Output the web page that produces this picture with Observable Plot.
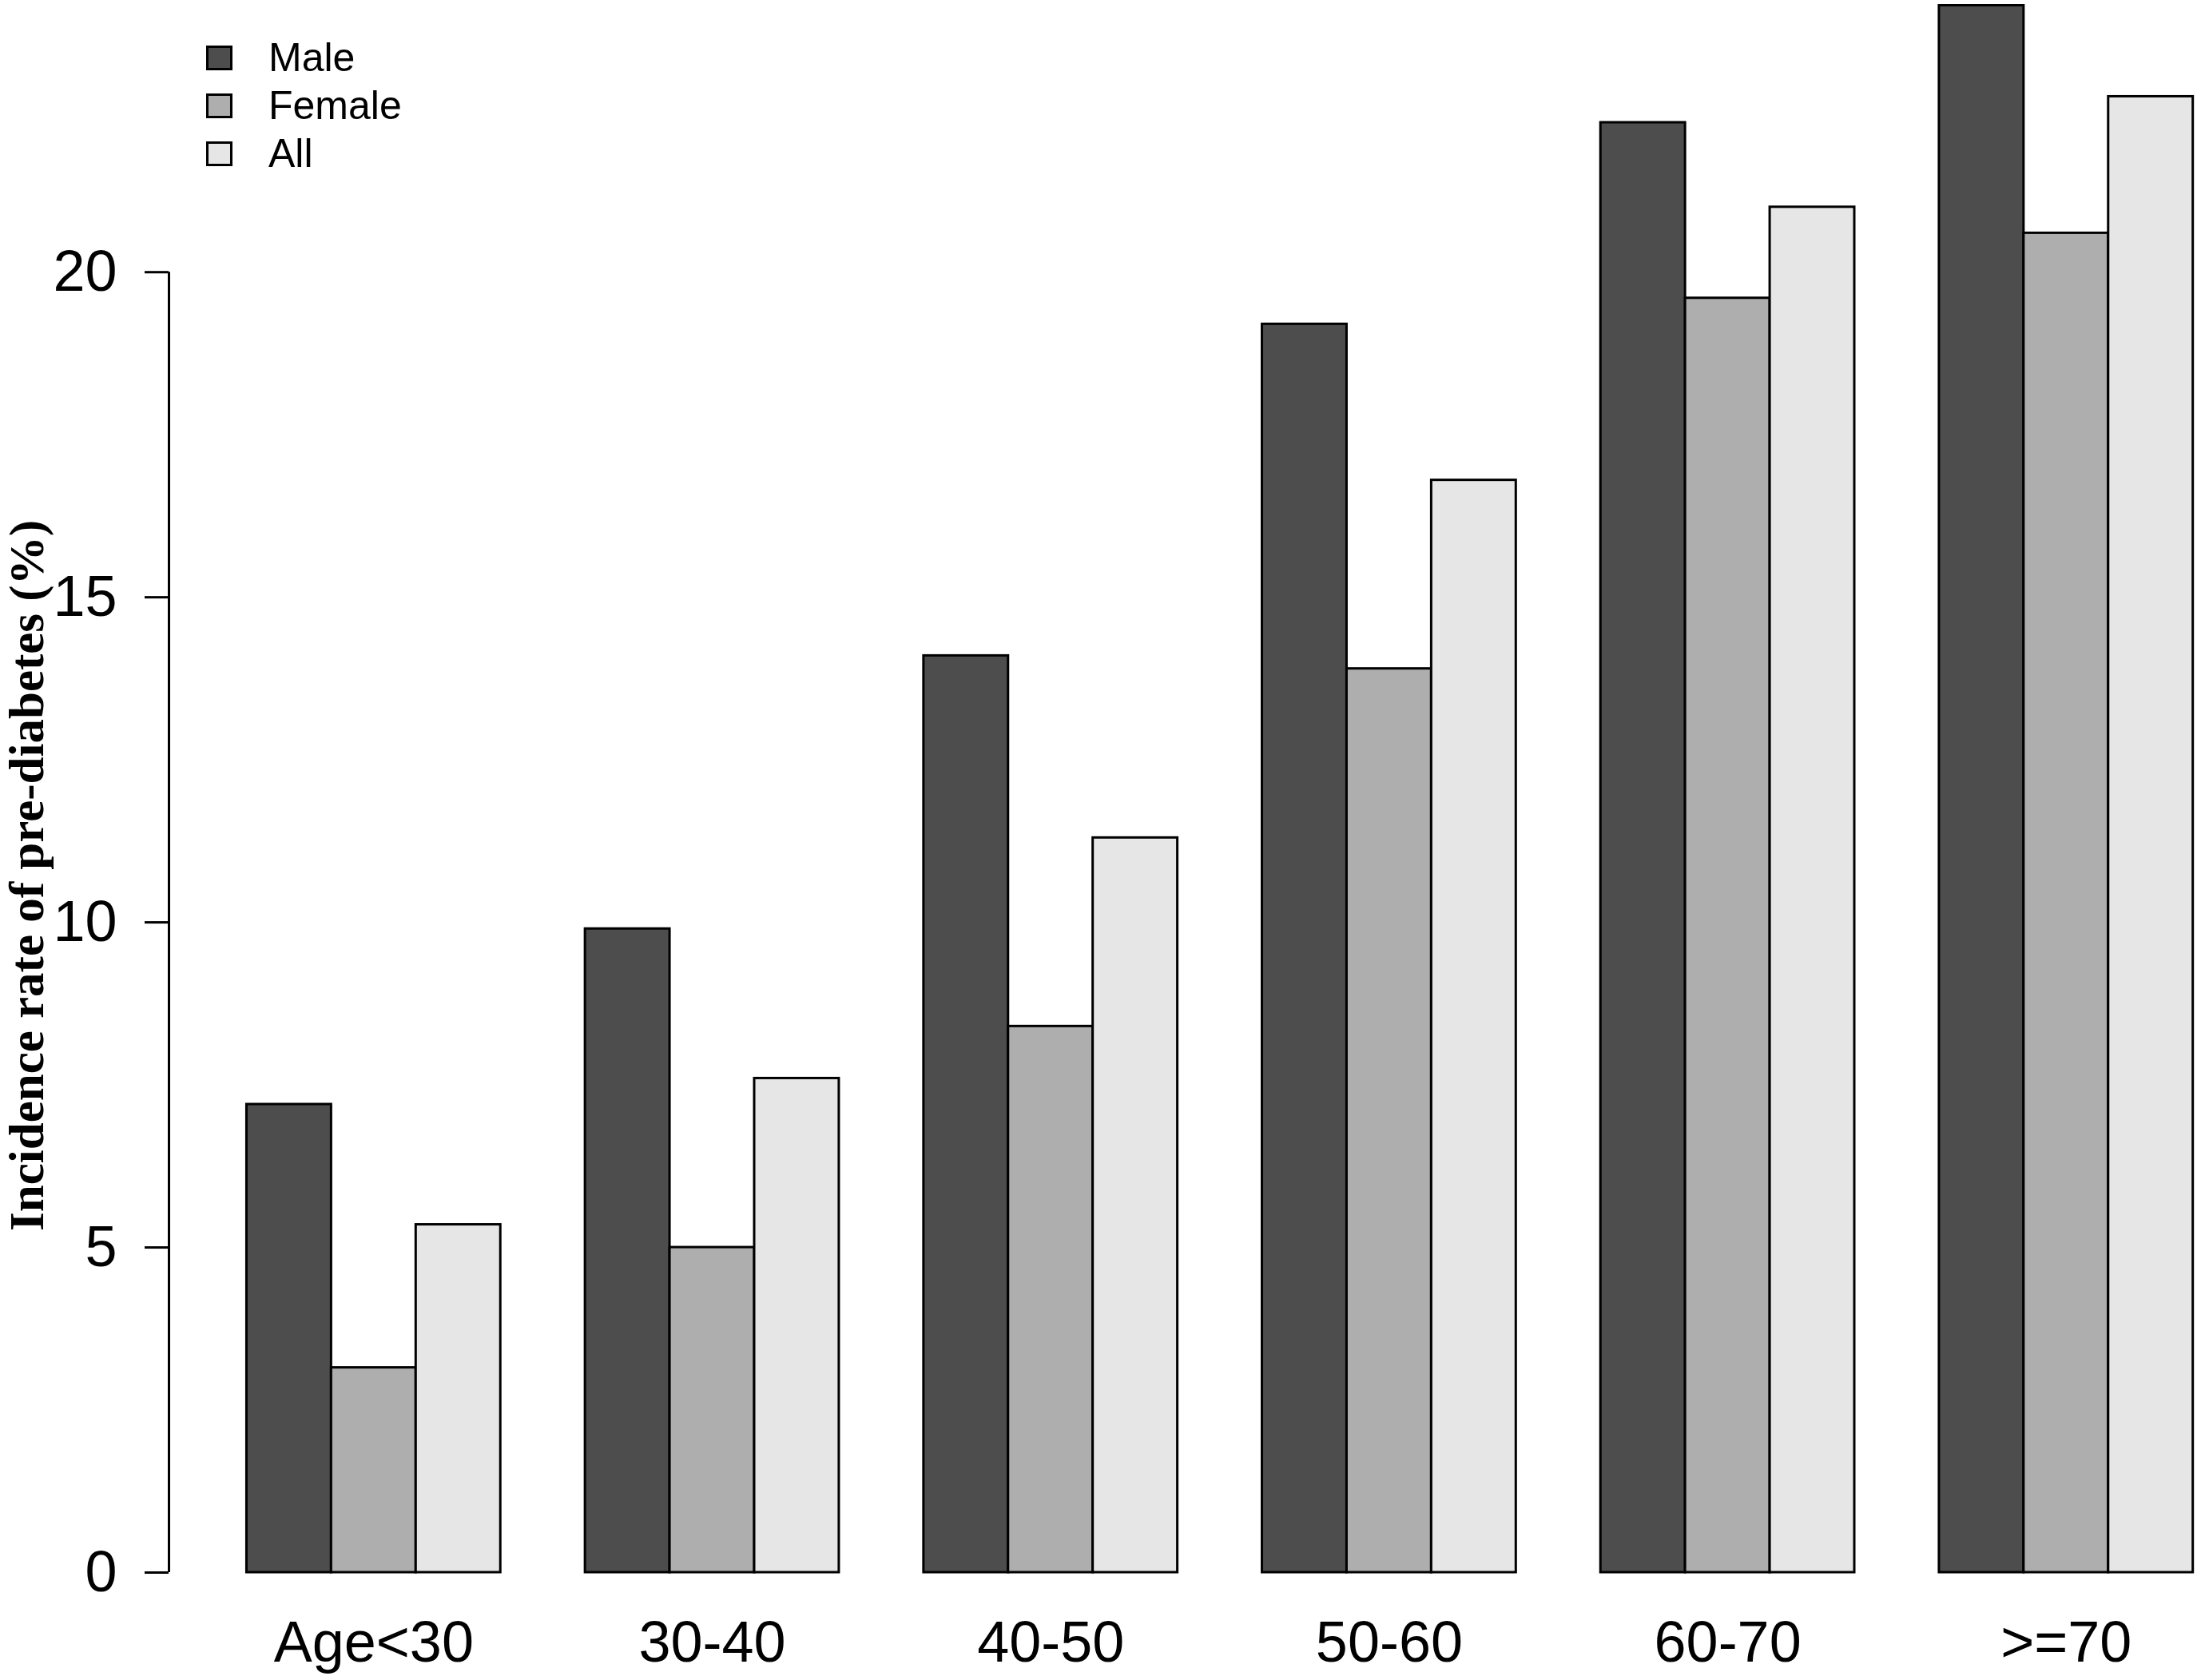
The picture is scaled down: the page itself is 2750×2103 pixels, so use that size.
<!DOCTYPE html>
<html><head><meta charset="utf-8">
<script src="https://cdn.jsdelivr.net/npm/d3@7"></script>
<script src="https://cdn.jsdelivr.net/npm/@observablehq/plot@0.6"></script>
<style>
html,body{margin:0;padding:0;background:#fff;}
#wrap{position:relative;width:2750px;height:2103px;overflow:hidden;}
#ytitle{position:absolute;left:33px;top:1096px;transform:translate(-50%,-50%) rotate(-90deg);
  font-family:"Liberation Serif","Times New Roman",serif;font-weight:bold;font-size:61px;white-space:nowrap;line-height:1;}
#legend{position:absolute;left:258px;top:42px;font-family:"Liberation Sans",Arial,sans-serif;font-size:50px;}
.row{display:flex;align-items:center;height:60px;}
.box{width:27px;height:25px;border:3px solid #000;margin-right:45px;}
</style></head>
<body><div id="wrap"></div>
<script>
const groups = ["Age<30", "30-40", "40-50", "50-60", "60-70", ">=70"];
const sexes = ["Male", "Female", "All"];
const male = [7.2, 9.9, 14.1, 19.2, 22.3, 24.1];
const female = [3.15, 5.0, 8.4, 13.9, 19.6, 20.6];
const all = [5.35, 7.6, 11.3, 16.8, 21.0, 22.7];
const colors = ["#4D4D4D", "#AEAEAE", "#E6E6E6"];
const yTicks = [0, 5, 10, 15, 20];
const yTitle = "Incidence rate of pre-diabetes (%)";

const series = [male, female, all];
const rows = [];
groups.forEach((g, gi) => sexes.forEach((s, si) => {
  rows.push({group: g, sex: s, value: series[si][gi], slot: gi * 4 + si + 1});
}));
const centers = groups.map((g, gi) => gi * 4 + 2.5);
const xDomain = [0.08, 24.05];

const chart = Plot.plot({
  width: 2750,
  height: 2103,
  marginLeft: 211,
  marginRight: 0,
  marginTop: 0,
  marginBottom: 135,
  style: {fontFamily: "'Liberation Sans', Arial, sans-serif", fontSize: "72px", background: "#fff", color: "#000"},
  x: {type: "linear", domain: xDomain},
  y: {domain: [0, 24.18]},
  color: {domain: sexes, range: colors},
  marks: [
    Plot.rect(rows, {x1: "slot", x2: d => d.slot + 1, y1: () => 0, y2: "value", fill: "sex", stroke: "#000", strokeWidth: 3}),
    Plot.ruleX([xDomain[0]], {y1: yTicks[0], y2: yTicks[yTicks.length - 1], stroke: "#000", strokeWidth: 3}),
    Plot.axisY(yTicks, {anchor: "left", tickSize: 30, tickPadding: 35, strokeWidth: 3, fontSize: 72, label: null, tickFormat: d => String(d)}),
    Plot.axisX(centers, {anchor: "bottom", tickSize: 0, tickPadding: 60, fontSize: 72, label: null, tickFormat: d => groups[centers.indexOf(d)]})
  ]
});

const wrap = document.getElementById("wrap");
wrap.appendChild(chart);

const t = document.createElement("div");
t.id = "ytitle";
t.textContent = yTitle;
wrap.appendChild(t);

const lg = document.createElement("div");
lg.id = "legend";
sexes.forEach((s, i) => {
  const r = document.createElement("div");
  r.className = "row";
  const b = document.createElement("div");
  b.className = "box";
  b.style.background = colors[i];
  const tx = document.createElement("span");
  tx.textContent = s;
  r.appendChild(b); r.appendChild(tx);
  lg.appendChild(r);
});
wrap.appendChild(lg);
</script>
</body></html>
